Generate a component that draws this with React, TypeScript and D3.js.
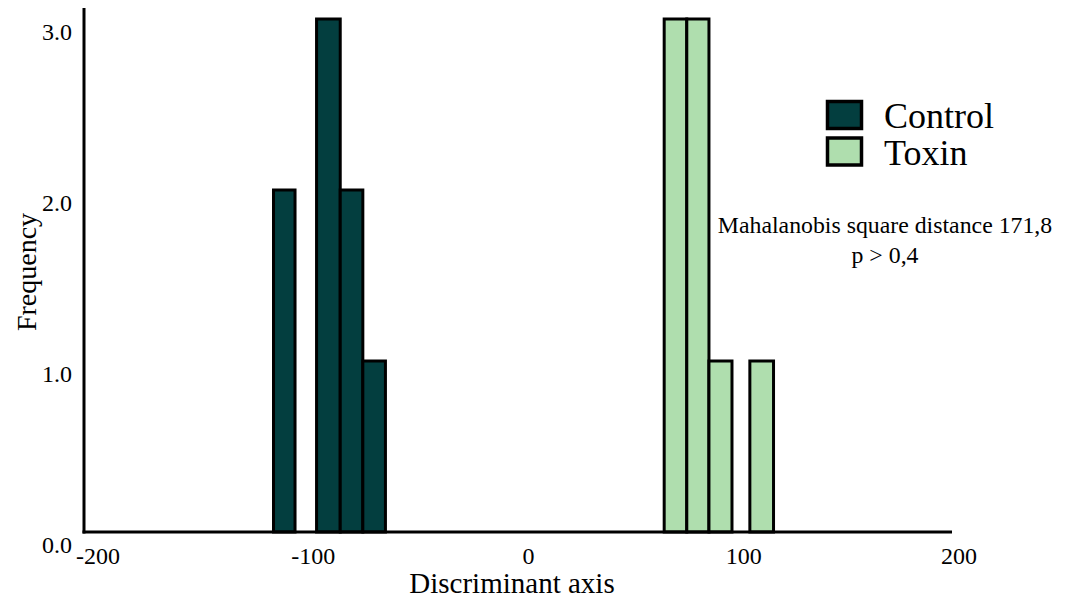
import React from "react";
import * as d3 from "d3";

const controlBins = [
  { x0: -118, x1: -108, count: 2 },
  { x0: -98, x1: -87, count: 3 },
  { x0: -87, x1: -76.5, count: 2 },
  { x0: -76.5, x1: -66, count: 1 },
];
const toxinBins = [
  { x0: 63.5, x1: 74, count: 3 },
  { x0: 74, x1: 84.3, count: 3 },
  { x0: 84.3, x1: 95, count: 1 },
  { x0: 103.3, x1: 114.3, count: 1 },
];
const xTicks = [-200, -100, 0, 100, 200];
const yTicks = [0, 1, 2, 3];
const seriesNames = ["Control", "Toxin"];
const seriesColors = ["#033e3f", "#afdeae"];
const annotation = ["Mahalanobis square distance 171,8", "p > 0,4"];

const W = 1071;
const H = 601;
const FONT = "'Liberation Serif', 'Times New Roman', serif";

export default function App() {
  const x = d3.scaleLinear().domain([-200, 200]).range([97, 958]);
  const y = d3.scaleLinear().domain([0, 3]).range([532, 19]);
  const axisLeft = 84;
  const axisRight = 952;
  const axisTop = 8;
  const groups = [controlBins, toxinBins];

  return (
    <svg
      width={W}
      height={H}
      style={{ position: "absolute", left: 0, top: 0, background: "#fff" }}
      fontFamily={FONT}
    >
      {groups.map((bins, gi) =>
        bins.map((b, i) => (
          <rect
            key={`${gi}-${i}`}
            x={x(b.x0)}
            y={y(b.count)}
            width={x(b.x1) - x(b.x0)}
            height={y(0) - y(b.count)}
            fill={seriesColors[gi]}
            stroke="#000"
            strokeWidth={3}
          />
        ))
      )}
      {/* axes */}
      <line x1={axisLeft} x2={axisLeft} y1={axisTop} y2={y(0) + 1.5} stroke="#000" strokeWidth={3} />
      <line x1={axisLeft - 1.5} x2={axisRight} y1={y(0)} y2={y(0)} stroke="#000" strokeWidth={3} />
      {yTicks.map((t) => (
        <text key={t} x={72} y={y(t) + 21} textAnchor="end" fontSize={24} fill="#000">
          {d3.format(".1f")(t)}
        </text>
      ))}
      {xTicks.map((t) => (
        <text key={t} x={x(t) + 1} y={564} textAnchor="middle" fontSize={24} fill="#000">
          {t}
        </text>
      ))}
      <text x={512} y={593} textAnchor="middle" fontSize={29} fill="#000">
        Discriminant axis
      </text>
      <text
        transform={`translate(36,272) rotate(-90)`}
        textAnchor="middle"
        fontSize={28}
        fill="#000"
      >
        Frequency
      </text>
      {/* legend */}
      {seriesNames.map((n, i) => (
        <g key={n} transform={`translate(826,${100 + i * 36.5})`}>
          <rect x={1.5} y={1.5} width={34} height={27} fill={seriesColors[i]} stroke="#000" strokeWidth={3.5} />
          <text x={58} y={28} fontSize={36} fill="#000">
            {n}
          </text>
        </g>
      ))}
      {annotation.map((a, i) => (
        <text key={i} x={885} y={233 + i * 30} textAnchor="middle" fontSize={23.8} fill="#000">
          {a}
        </text>
      ))}
    </svg>
  );
}
